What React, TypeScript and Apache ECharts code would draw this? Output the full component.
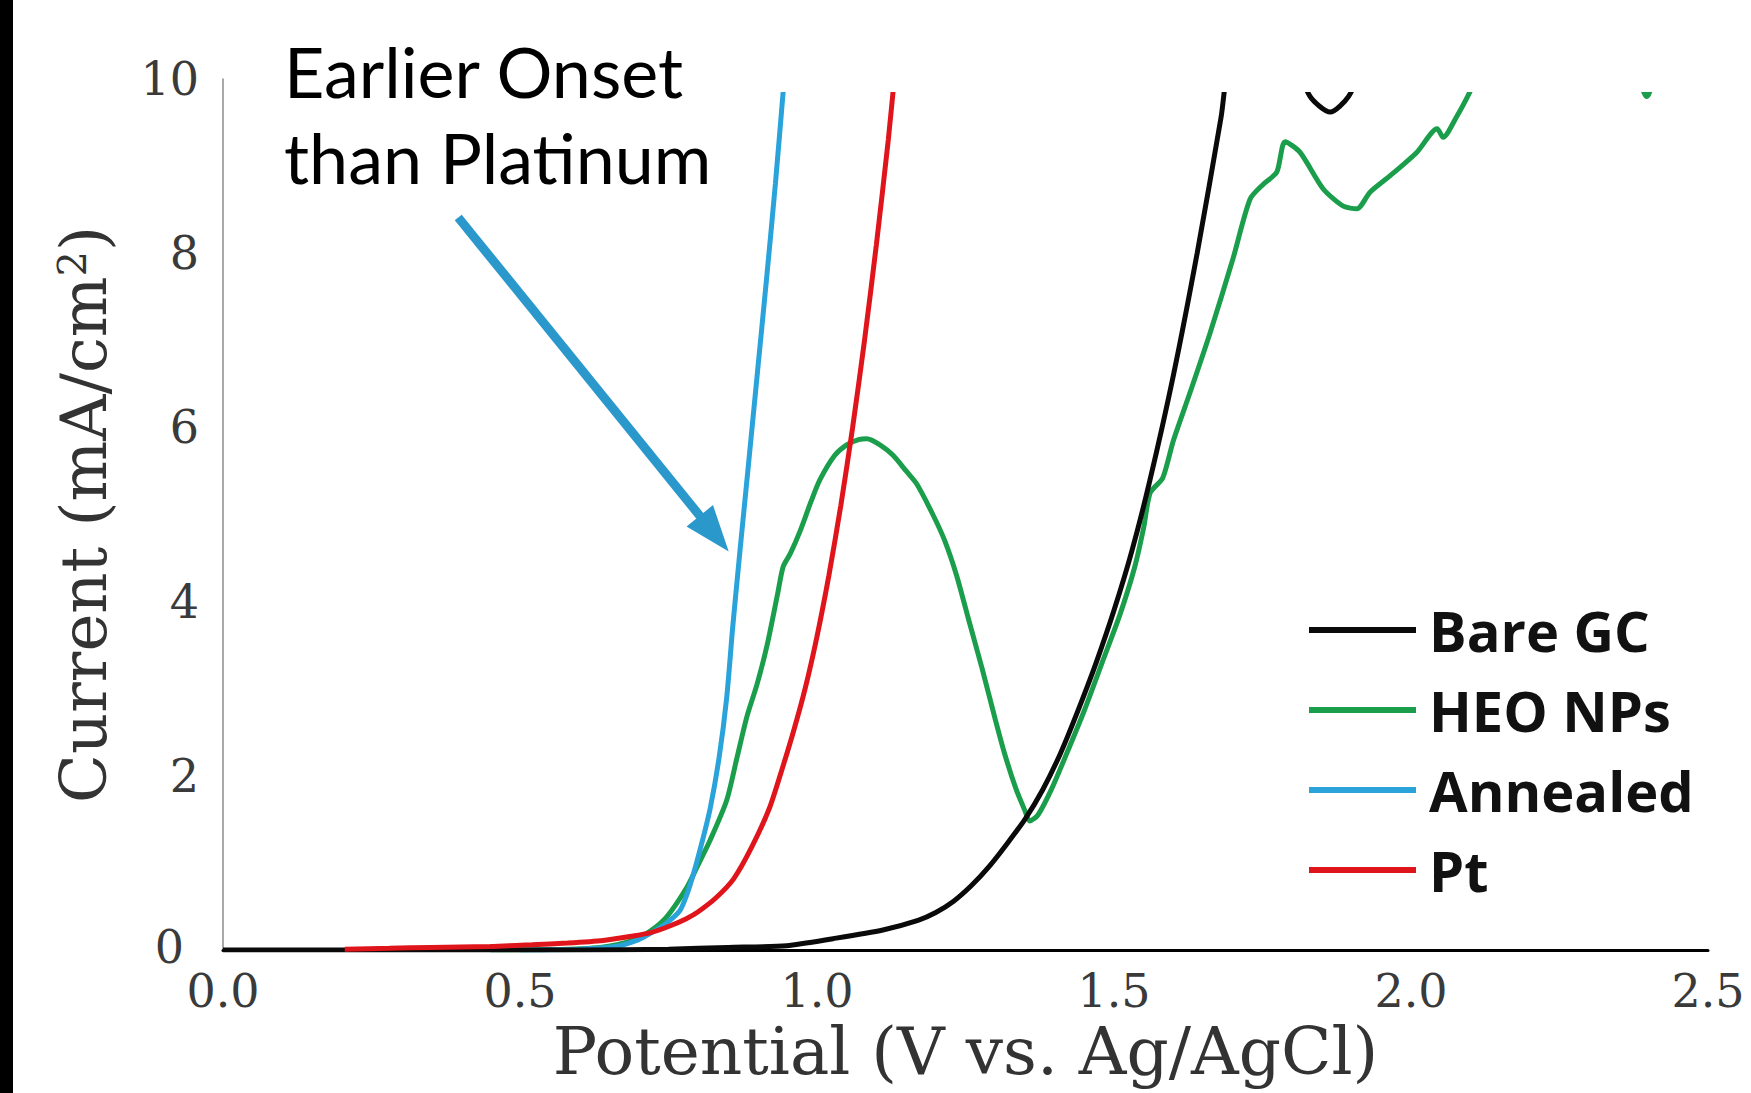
import React, { useEffect, useRef } from "react";
import * as echarts from "echarts";

// ---- data (V vs Ag/AgCl, mA/cm^2) ----
const seriesNames = ["Bare GC", "HEO NPs", "Annealed", "Pt"];
const seriesColors = ["#0a0a0a", "#1b9e4b", "#29a3da", "#e0151b"];

const bareGC: [number, number][] = [
  [0.0, 0.0], [0.6, 0.0], [0.75, 0.01], [0.85, 0.03], [0.949, 0.05], [1.027, 0.13],
  [1.111, 0.23], [1.17, 0.34], [1.2, 0.43], [1.23, 0.56], [1.26, 0.74], [1.29, 0.96],
  [1.32, 1.22], [1.35, 1.5], [1.38, 1.84], [1.41, 2.26], [1.44, 2.76], [1.47, 3.3],
  [1.5, 3.9], [1.53, 4.58], [1.56, 5.38], [1.6, 6.6], [1.64, 8.0], [1.68, 9.55],
  [1.7, 10.4], [1.76, 10.9], [1.8, 10.3], [1.83, 9.8], [1.864, 9.62], [1.895, 9.8],
  [1.93, 10.3], [2.0, 11.0], [2.5, 11.5],
];

const heoNPs: [number, number][] = [
  [0.45, 0.0], [0.55, 0.005], [0.635, 0.03], [0.69, 0.11], [0.72, 0.22], [0.747, 0.38],
  [0.781, 0.72], [0.8, 0.98], [0.82, 1.26], [0.848, 1.72], [0.865, 2.2], [0.882, 2.68],
  [0.899, 3.05], [0.916, 3.5], [0.934, 4.1], [0.943, 4.4], [0.955, 4.55], [0.971, 4.8],
  [0.99, 5.15], [1.005, 5.4], [1.03, 5.68], [1.05, 5.8], [1.07, 5.86], [1.084, 5.87],
  [1.106, 5.8], [1.128, 5.68], [1.15, 5.5], [1.168, 5.35], [1.195, 5.0], [1.215, 4.7],
  [1.235, 4.3], [1.255, 3.8], [1.278, 3.23], [1.3, 2.65], [1.316, 2.25], [1.335, 1.85],
  [1.35, 1.6], [1.358, 1.48], [1.372, 1.55], [1.395, 1.85], [1.42, 2.25], [1.45, 2.75],
  [1.48, 3.3], [1.51, 3.85], [1.535, 4.4], [1.55, 4.85], [1.561, 5.25], [1.582, 5.42],
  [1.6, 5.85], [1.628, 6.4], [1.662, 7.09], [1.7, 7.93], [1.729, 8.62], [1.751, 8.79],
  [1.774, 8.93], [1.788, 9.28], [1.813, 9.16], [1.852, 8.74], [1.886, 8.54], [1.909, 8.51],
  [1.931, 8.7], [1.965, 8.89], [2.01, 9.16], [2.044, 9.43], [2.054, 9.33], [2.077, 9.57],
  [2.099, 9.85], [2.13, 10.3], [2.25, 10.6], [2.37, 10.2], [2.397, 9.8], [2.42, 10.2],
  [2.5, 10.6],
];

const annealed: [number, number][] = [
  [0.5, 0.0], [0.6, 0.01], [0.66, 0.04], [0.7, 0.12], [0.719, 0.19], [0.745, 0.3],
  [0.769, 0.45], [0.78, 0.62], [0.791, 0.85], [0.805, 1.2], [0.82, 1.62], [0.835, 2.2],
  [0.848, 2.9], [0.858, 3.7], [0.87, 4.56], [0.885, 5.6], [0.9, 6.65], [0.915, 7.7],
  [0.93, 8.8], [0.943, 9.85], [0.952, 10.6],
];

const platinum: [number, number][] = [
  [0.205, 0.01], [0.28, 0.02], [0.35, 0.03], [0.45, 0.04], [0.52, 0.06], [0.58, 0.08],
  [0.64, 0.11], [0.69, 0.16], [0.72, 0.2], [0.75, 0.27], [0.78, 0.36], [0.8, 0.44],
  [0.83, 0.6], [0.86, 0.82], [0.89, 1.18], [0.92, 1.63], [0.94, 2.05], [0.96, 2.5],
  [0.98, 3.0], [1.0, 3.6], [1.02, 4.3], [1.04, 5.1], [1.06, 6.0], [1.08, 7.0],
  [1.1, 8.1], [1.12, 9.3], [1.128, 9.85], [1.14, 10.6],
];

const seriesData = [bareGC, heoNPs, annealed, platinum];
const seriesZ = [3, 2, 2, 4];

// annotation arrow (data coordinates): tail -> head centre
const arrowTail: [number, number] = [0.396, 8.41];
const arrowHead: [number, number] = [0.827, 4.78];

const xMin = 0, xMax = 2.5, xStep = 0.5;
const yMin = 0, yMax = 10, yStep = 2;
const coverBand: [number, number] = [9.85, 10];

const serif = "'DejaVu Serif', 'Liberation Serif', serif";

export default function App() {
  const ref = useRef<HTMLDivElement>(null);

  useEffect(() => {
    document.body.style.margin = "0";
    const chart = echarts.init(ref.current!, null, { renderer: "svg" });

    const series: any[] = seriesNames.map((name, i) => ({
      name,
      type: "line",
      data: seriesData[i],
      showSymbol: false,
      symbol: "none",
      smooth: 0.25,
      clip: true,
      z: seriesZ[i],
      color: seriesColors[i],
      lineStyle: { color: seriesColors[i], width: 5 },
      emphasis: { disabled: true },
    }));

    series[3].markLine = {
      silent: true,
      animation: false,
      symbol: ["none", "triangle"],
      symbolSize: [34, 46],
      label: { show: false },
      lineStyle: { color: "#2b98cc", width: 9, type: "solid" },
      itemStyle: { color: "#2b98cc" },
      emphasis: { disabled: true },
      data: [[{ coord: arrowTail }, { coord: arrowHead }]],
    };

    chart.setOption({
      animation: false,
      backgroundColor: "#ffffff",
      title: {
        text: "Earlier Onset\nthan Platinum",
        left: 284,
        top: 28,
        padding: 0,
        z: 20,
        textStyle: {
          fontFamily: "Lato, 'Open Sans', sans-serif",
          fontSize: 70,
          fontWeight: "normal",
          color: "#000",
          lineHeight: 86,
        },
      },
      legend: {
        data: seriesNames,
        orient: "vertical",
        left: 1309,
        top: 602,
        padding: 0,
        icon: "rect",
        itemWidth: 107,
        itemHeight: 6,
        itemGap: 24,
        selectedMode: false,
        textStyle: {
          fontFamily: "'Open Sans', 'Noto Sans', sans-serif",
          fontWeight: 700,
          fontSize: 56,
          lineHeight: 56,
          color: "#111",
          padding: [0, 0, 0, 8],
        },
      },
      grid: { left: 223, right: 43, top: 79, bottom: 143, containLabel: false },
      xAxis: {
        type: "value",
        min: xMin,
        max: xMax,
        interval: xStep,
        name: "Potential (V vs. Ag/AgCl)",
        nameLocation: "middle",
        nameGap: 67,
        nameTextStyle: { fontFamily: serif, fontSize: 66, color: "#333" },
        axisLine: { show: true, onZero: false, lineStyle: { color: "#000", width: 3 } },
        axisTick: { show: false },
        splitLine: { show: false },
        axisLabel: {
          fontFamily: serif,
          fontSize: 46,
          lineHeight: 34,
          color: "#3a3a3a",
          margin: 24,
          formatter: (v: number) => v.toFixed(1),
        },
      },
      yAxis: {
        type: "value",
        min: yMin,
        max: yMax,
        interval: yStep,
        name: "Current (mA/cm{sup|2})",
        nameLocation: "middle",
        nameGap: 107,
        nameTextStyle: {
          fontFamily: serif,
          fontSize: 64,
          color: "#333",
          rich: {
            sup: { fontFamily: serif, fontSize: 40, color: "#333", verticalAlign: "top" },
          },
        },
        axisLine: { show: true, lineStyle: { color: "#8c8c8c", width: 1.5 } },
        axisTick: { show: false },
        splitLine: { show: false },
        axisLabel: {
          fontFamily: serif,
          fontSize: 46,
          lineHeight: 34,
          color: "#3a3a3a",
          margin: 24,
          formatter: (v: number) => (v === yMin ? "{zero|" + v + "}" : String(v)),
          rich: {
            zero: {
              fontFamily: serif,
              fontSize: 46,
              lineHeight: 34,
              color: "#3a3a3a",
              padding: [0, 15, 6, 0],
            },
          },
        },
      },
      series,
    });

    const p0 = chart.convertToPixel({ gridIndex: 0 }, [xMin, coverBand[1]]) as number[];
    const p1 = chart.convertToPixel({ gridIndex: 0 }, [xMax, coverBand[0]]) as number[];

    chart.setOption({
      graphic: [
        {
          type: "rect",
          z: 10,
          silent: true,
          shape: { x: p0[0] + 1, y: p0[1] - 3, width: p1[0] - p0[0] + 4, height: p1[1] - p0[1] + 3 },
          style: { fill: "#ffffff" },
        },
        {
          type: "rect",
          z: 10,
          silent: true,
          shape: { x: 0, y: 0, width: 13, height: 1093 },
          style: { fill: "#000000" },
        },
      ],
    });

    return () => chart.dispose();
  }, []);

  return (
    <div
      ref={ref}
      style={{ position: "fixed", left: 0, top: 0, width: 1751, height: 1093 }}
    />
  );
}
